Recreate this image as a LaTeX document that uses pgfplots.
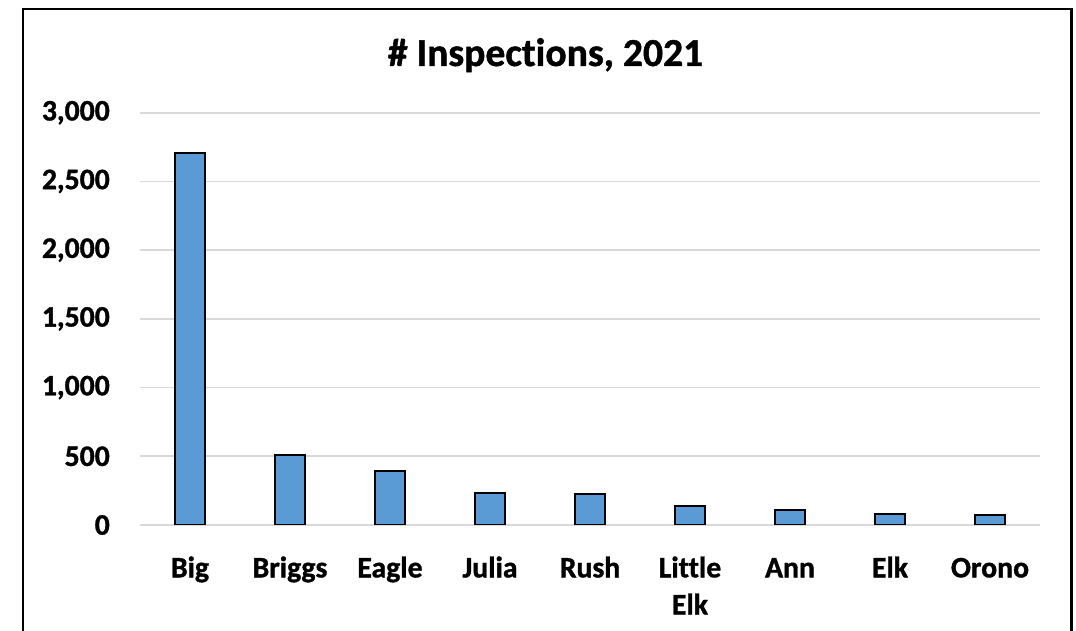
\documentclass[border=0pt]{standalone}
\usepackage{fontspec}
\setmainfont{Carlito}[Ligatures=NoCommon, BoldFeatures={FakeBold=1.2}]
\usepackage{pgfplots}
\pgfplotsset{compat=1.18}
\definecolor{barblue}{HTML}{5B9BD5}
\definecolor{gridgray}{HTML}{D9D9D9}
\begin{document}
\begin{tikzpicture}[x=1pt,y=1pt]
\useasboundingbox (0,0) rectangle (1076,631);
\draw[line width=2.2pt, black] (23,-10) -- (23,622) -- (1071.5,622) -- (1071.5,-10);
\node[anchor=base, font=\fontsize{39.6}{44}\selectfont\bfseries, inner sep=0pt] at (545.5,565) {\# Inspections, 2021};
\begin{axis}[
  at={(140pt,106pt)}, anchor=south west,
  scale only axis, width=900pt, height=412.3pt,
  xmin=-0.5, xmax=8.5, ymin=0, ymax=3000,
  ytick={0,500,...,3000},
  xtick={0,...,8},
  xticklabels={\strut Big,\strut Briggs,\strut Eagle,\strut Julia,\strut Rush,{\strut Little\\Elk},\strut Ann,\strut Elk,\strut Orono},
  axis line style={draw=none},
  tick style={draw=none},
  ymajorgrids,
  major grid style={draw=gridgray, line width=1.8pt},
  /pgf/number format/assume math mode=true,
  /pgf/number format/.cd, 1000 sep={,}, /pgfplots/.cd,
  yticklabel style={font=\fontsize{29.7}{36}\selectfont\bfseries, anchor=east, inner sep=0pt, xshift=-30pt},
  xticklabel style={font=\fontsize{29.7}{37}\selectfont\bfseries, align=center, anchor=north, inner sep=0pt, yshift=-22pt},
  ybar, bar width=30pt,
]
\addplot[draw=black, line width=2pt, fill=barblue] coordinates {
(0,2710) (1,512) (2,395) (3,235) (4,228) (5,136) (6,109) (7,82) (8,73)};
\end{axis}
\end{tikzpicture}
\end{document}
